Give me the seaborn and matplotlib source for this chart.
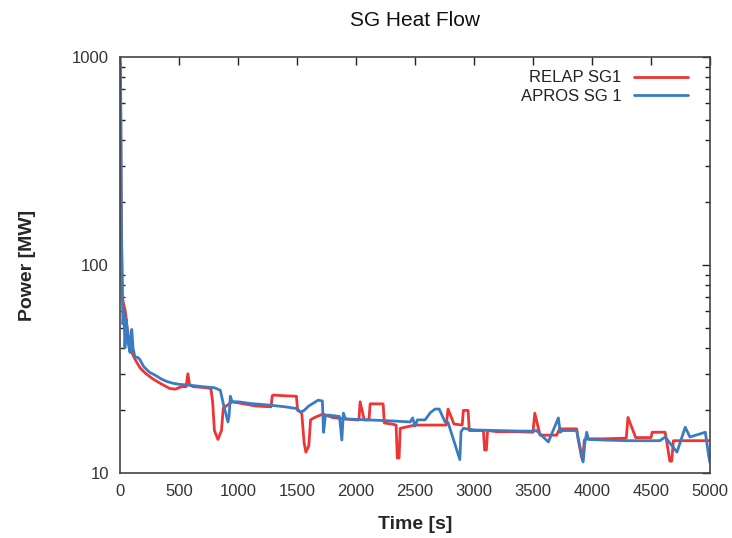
import matplotlib
matplotlib.use("Agg")
import matplotlib.pyplot as plt
import seaborn as sns
import pandas as pd
import numpy as np
from matplotlib.ticker import LogLocator, FixedLocator, NullFormatter

# ---- data ----
relap_t = [0, 3, 8, 12, 20, 30, 45, 60, 80, 100, 130, 170, 220, 280, 350, 420, 470, 520,
           560, 575, 590, 620, 700, 770, 785, 800, 830, 860, 875, 950, 1050, 1150, 1280,
           1290, 1300, 1400, 1495, 1505, 1540, 1560, 1575, 1600, 1615, 1650, 1720, 1800,
           1900, 2000, 2025, 2035, 2070, 2110, 2120, 2230, 2240, 2300, 2340, 2350, 2365,
           2375, 2500, 2700, 2765, 2780, 2830, 2900, 2910, 2950, 2960, 3080, 3090, 3105,
           3115, 3200, 3350, 3500, 3515, 3560, 3700, 3725, 3870, 3880, 3910, 3920, 3935,
           3950, 4100, 4290, 4305, 4370, 4500, 4510, 4620, 4630, 4660, 4675, 4690, 4800, 5000]
relap_p = [950, 800, 300, 150, 70, 65, 60, 50, 42, 38, 35, 32, 30, 28.3, 26.8, 25.5, 25.3, 26,
           26, 30, 26.5, 26, 25.8, 25.5, 22, 16, 14.5, 16, 20.5, 22, 21.5, 21, 20.8,
           23.5, 23.7, 23.5, 23.4, 20, 19.5, 14, 12.6, 13.5, 18, 18.5, 19.2, 18.5,
           18.2, 18, 18, 22, 18, 18, 21.5, 21.5, 17.4, 17.2, 17, 11.8, 11.8,
           16.4, 17, 17, 17, 20.3, 17.2, 17, 20, 20, 16, 16, 12.9, 12.9,
           16, 15.8, 15.8, 15.7, 19.4, 15.2, 15.2, 16.3, 16.3, 14.8, 12, 11.5, 14.4,
           14.6, 14.6, 14.7, 18.5, 14.8, 14.8, 15.7, 15.7, 14.5, 11.4, 11.4, 14.3, 14.3, 14.3]

apros_t = [0, 4, 8, 12, 16, 20, 25, 33, 42, 52, 60, 70, 85, 95, 100, 110, 127, 150, 170, 200,
           250, 300, 350, 400, 450, 500, 600, 700, 800, 850, 880, 915, 925, 935, 950, 1000,
           1100, 1270, 1400, 1500, 1530, 1560, 1600, 1680, 1715, 1725, 1740, 1760, 1860,
           1880, 1893, 1910, 2100, 2300, 2460, 2480, 2500, 2520, 2585, 2630, 2670, 2705,
           2755, 2780, 2880, 2890, 2910, 3000, 3200, 3400, 3500, 3530, 3630, 3715, 3730,
           3750, 3870, 3925, 3940, 3955, 3970, 4100, 4300, 4575, 4620, 4720, 4790, 4830,
           4960, 4990, 5000]
apros_p = [1000, 900, 500, 150, 100, 70, 52, 60, 40, 55, 50, 42, 38, 48, 49, 40, 36, 36, 35, 32.5,
           30.5, 29.5, 28.3, 27.5, 27, 26.7, 26.4, 26, 25.7, 25, 21, 17.6, 19, 23.4, 22, 22,
           21.6, 21.2, 20.8, 20.4, 19.6, 20, 21, 22.4, 22.2, 15.7, 18.7, 19, 18.7,
           14.4, 19.4, 18.2, 18, 17.8, 17.6, 18.4, 16.8, 18, 18, 19.5, 20.3, 20.3,
           17.6, 17.5, 11.6, 15.8, 16.4, 16.1, 16, 15.9, 15.9, 16, 14.1, 18.4, 15.7,
           16, 16, 11.3, 14, 15.7, 14.5, 14.4, 14.3, 14.3, 14.9, 12.6, 16.6, 14.9,
           15.7, 12, 11.2]

labels = ["RELAP SG1", "APROS SG 1"]
x_ticks = [0, 500, 1000, 1500, 2000, 2500, 3000, 3500, 4000, 4500, 5000]
y_ticks = [10, 100, 1000]

df = pd.concat([
    pd.DataFrame({"Time": relap_t, "Power": relap_p, "Series": labels[0]}),
    pd.DataFrame({"Time": apros_t, "Power": apros_p, "Series": labels[1]}),
], ignore_index=True)

sns.set_theme(style="white")
plt.rcParams["font.family"] = ["Liberation Sans", "DejaVu Sans"]

fig = plt.figure(figsize=(7.32, 5.38), dpi=100)
ax = fig.add_axes([120 / 732, 65 / 538, 590 / 732, 416 / 538])

sns.lineplot(data=df, x="Time", y="Power", hue="Series", estimator=None, sort=False,
             palette={labels[0]: "#ee3434", labels[1]: "#3a7cc2"},
             linewidth=2.0, ax=ax, legend=True)

ax.set_yscale("log")
ax.set_xlim(0, 5000)
ax.set_ylim(10, 1000)
ax.set_xticks(x_ticks)
ax.set_xticklabels([str(v) for v in x_ticks])
ax.yaxis.set_major_locator(FixedLocator(y_ticks))
ax.set_yticklabels([str(v) for v in y_ticks])
ax.yaxis.set_minor_locator(LogLocator(base=10, subs=np.arange(2, 10)))
ax.yaxis.set_minor_formatter(NullFormatter())

ax.tick_params(axis="both", which="major", direction="in", length=6, width=1,
               top=True, right=True, labelsize=12, pad=8, colors="#222222",
               labelcolor="#333333")
ax.tick_params(axis="y", which="minor", direction="in", length=3.5, width=1,
               left=True, right=True, colors="#222222")
for s in ax.spines.values():
    s.set_color("#444444")
    s.set_linewidth(1.2)

ax.set_xlabel("Time [s]", fontsize=14, fontweight="bold", labelpad=12)
ax.set_ylabel("Power [MW]", fontsize=14, fontweight="bold", labelpad=26)
fig.text(415 / 732, 1 - 21 / 538, "SG Heat Flow", ha="center", va="center", fontsize=15,
         color="#111111")

leg = ax.legend(loc="upper right", frameon=False, markerfirst=False, fontsize=12,
                handlelength=3.2, handletextpad=0.8, labelspacing=0.2,
                borderaxespad=0.4, bbox_to_anchor=(0.985, 1.0))
for txt in leg.get_texts():
    txt.set_ha("right")
    txt.set_color("#222222")
leg._legend_box.align = "right"

fig.savefig("out.png", dpi=100)
